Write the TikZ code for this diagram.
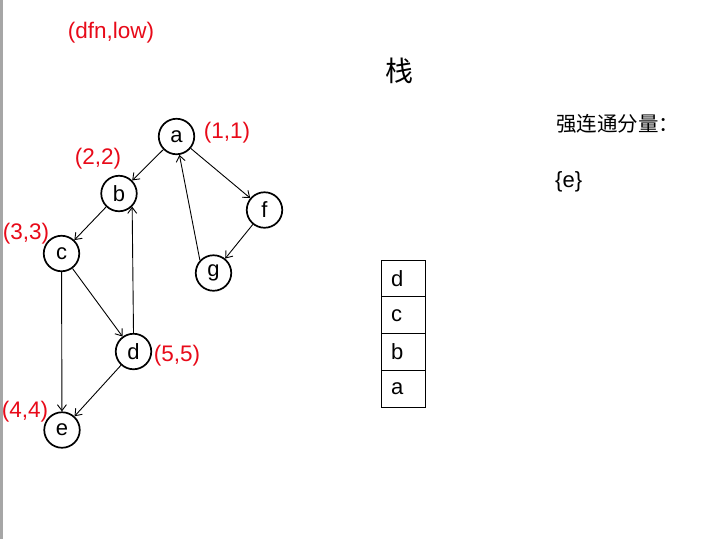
\documentclass[tikz,border=0pt]{standalone}
\usepackage{fontspec}
\setmainfont{Liberation Sans}
\newfontfamily\cjk{Noto Sans CJK SC}
\usetikzlibrary{arrows.meta}
\definecolor{labred}{RGB}{232,10,25}
\begin{document}
\begin{tikzpicture}[x=1pt,y=-1pt,
  vtx/.style={circle,draw,line width=1.7pt,minimum size=35.5pt,inner sep=0pt,font=\fontsize{22}{26}\selectfont},
  lab/.style={text=labred,font=\fontsize{22.5}{26}\selectfont,inner sep=0pt},
  edge/.style={line width=0.9pt,-{Straight Barb[length=6pt,width=9pt]}},
  cell/.style={draw,line width=1pt,minimum width=44pt,minimum height=36.7pt,inner xsep=10pt,inner ysep=0pt,text width=24pt,align=left,font=\fontsize{22}{26}\selectfont},
  txt/.style={inner sep=0pt}]
\fill[white] (0,0) rectangle (717,539);
\useasboundingbox (0,0) rectangle (717,539);
\fill[gray!70] (0,0) rectangle (2.5,539);

\node[lab] (hdr) at (111,33) {(dfn,low)};

\node[vtx] (a) at (176.5,136.5) {a};
\node[vtx] (b) at (119,193.5) {b};
\node[vtx] (c) at (61.5,253.5) {c};
\node[vtx] (d) at (133.5,351.5) {d};
\node[vtx] (e) at (62,430) {e};
\node[vtx] (f) at (264.5,210) {f};
\node[vtx] (g) at (213.5,273) {g};

\node[lab] (la) at (227,133) {(1,1)};
\node[lab] (lb) at (98,159) {(2,2)};
\node[lab] (lc) at (26,234) {(3,3)};
\node[lab] (ld) at (177,356) {(5,5)};
\node[lab] (le) at (25,412) {(4,4)};

\draw[edge] (a) -- (b);
\draw[edge] (b) -- (c);
\draw[edge] (c) -- (d);
\draw[edge] (c) -- (e);
\draw[edge] (d) -- (e);
\draw[edge] (d.north) -- (b.-45);
\draw[edge] (a) -- (f);
\draw[edge] (f) -- (g);
\draw[edge] (g.137) -- (a.-81);

\node[txt,font=\cjk\fontsize{28}{30}\selectfont] (stk) at (399,71) {栈};
\node[txt,anchor=west,font=\cjk\fontsize{20.5}{24}\selectfont] (scc) at (556,124) {强连通分量：};
\node[txt,anchor=west,font=\fontsize{22}{26}\selectfont] (sccE) at (555,182) {\{e\}};

\node[cell] (s4) at (403,278.6) {d};
\node[cell] (s3) at (403,315.3) {c};
\node[cell] (s2) at (403,352) {b};
\node[cell] (s1) at (403,388.7) {a};
\end{tikzpicture}
\end{document}
